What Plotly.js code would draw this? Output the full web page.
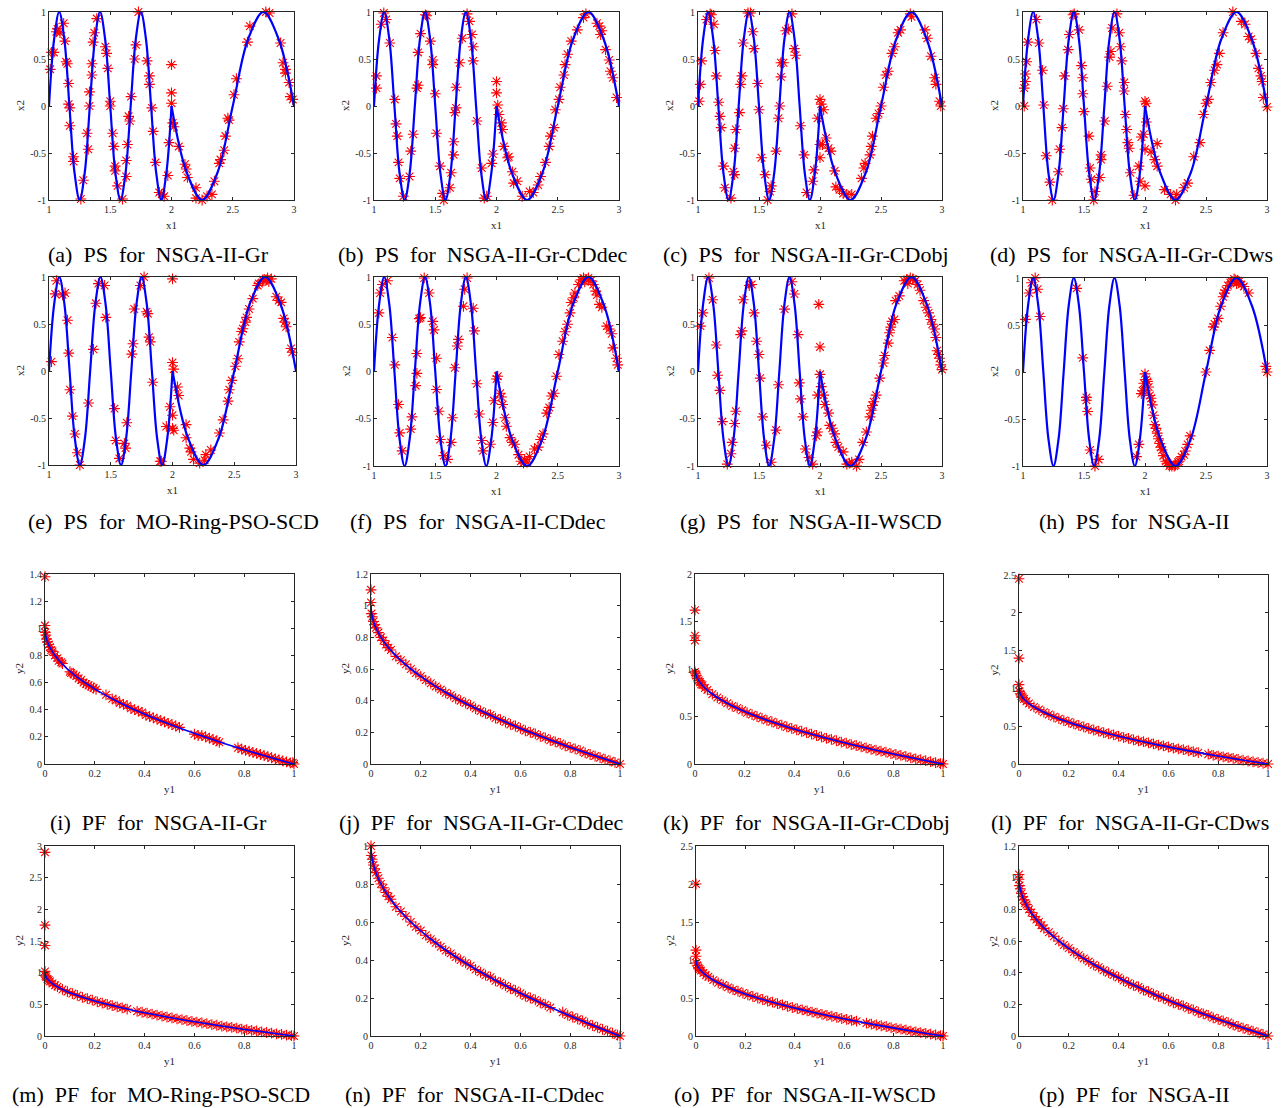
<!DOCTYPE html>
<html><head><meta charset="utf-8">
<script src="https://cdn.plot.ly/plotly-3.0.1.min.js"></script>
<style>html,body{margin:0;padding:0;background:#fff;}#chart{width:1284px;height:1108px;}</style>
</head><body><div id="chart"></div>
<script>
// ---------- reference curves ----------
const psCurve1X1 = [1,1.0417,1.0833,1.125,1.1667,1.2083,1.25,1.2917,1.3333,1.375,1.4167,1.4583,1.5,1.5417,1.5833,1.625,1.6667,1.7083,1.75,1.7917,1.8333,1.875,1.9167,1.9583,2];
const psCurve1X2 = [0,0.71,1,0.71,0,-0.71,-1,-0.71,0,0.71,1,0.71,0,-0.71,-1,-0.71,0,0.71,1,0.71,0,-0.71,-1,-0.71,0];
const psCurve2X1 = [2,2.125,2.25,2.375,2.5,2.625,2.75,2.875,3];
const psCurve2X2 = [0,-0.71,-1,-0.71,0,0.71,1,0.71,0];
const pfCurveY1 = [0,0.0025,0.01,0.0225,0.04,0.0625,0.09,0.1225,0.16,0.2025,0.25,0.3025,0.36,0.4225,0.49,0.5625,0.64,0.7225,0.81,0.9025,1];
const pfCurveY2 = [1,0.95,0.9,0.85,0.8,0.75,0.7,0.65,0.6,0.55,0.5,0.45,0.4,0.35,0.3,0.25,0.2,0.15,0.1,0.05,0];

// ---------- PS points [x1, x2] ----------
const psA = [[1.01,0.39],[1.02,0.57],[1.04,0.57],[1.06,0.79],[1.07,0.82],[1.09,0.78],[1.12,0.88],[1.13,0.69],[1.14,0.47],[1.15,0.45],
[1.16,0.24],[1.16,0.02],[1.17,-0.02],[1.17,-0.21],[1.2,-0.54],[1.2,-0.59],[1.26,-0.99],[1.28,-0.79],[1.31,-0.29],[1.32,-0.46],
[1.33,0.0],[1.33,0.15],[1.35,0.33],[1.35,0.45],[1.36,0.68],[1.37,0.78],[1.39,0.93],[1.46,0.63],[1.47,0.56],[1.48,0.40],
[1.5,0.05],[1.5,0.0],[1.52,-0.29],[1.53,-0.43],[1.54,-0.64],[1.54,-0.69],[1.56,-0.85],[1.6,-0.99],[1.63,-0.75],[1.64,-0.41],
[1.63,-0.58],[1.65,-0.11],[1.66,-0.16],[1.67,0.10],[1.7,0.5],[1.71,0.65],[1.73,1.0],[1.8,0.48],[1.82,0.32],[1.82,0.23],
[1.84,-0.02],[1.85,-0.27],[1.87,-0.6],[1.9,-0.92],[1.92,-0.94],[1.94,-0.96],[1.97,-0.74],[1.98,-0.39],[2.0,0.44],[2.0,0.14],
[2.0,0.03],[2.01,-0.18],[2.02,-0.22],[2.06,-0.43],[2.11,-0.62],[2.12,-0.67],[2.13,-0.76],[2.2,-0.87],[2.2,-0.98],[2.25,-1.0],
[2.29,-0.96],[2.33,-0.94],[2.35,-0.8],[2.39,-0.61],[2.4,-0.57],[2.43,-0.47],[2.44,-0.32],[2.46,-0.13],[2.47,-0.15],[2.51,0.12],
[2.53,0.29],[2.62,0.68],[2.64,0.85],[2.77,1.0],[2.8,0.99],[2.89,0.67],[2.91,0.46],[2.93,0.39],[2.93,0.35],[2.96,0.25],
[2.97,0.1],[2.99,0.07]];
const psB = [[1.02,0.19],[1.02,0.32],[1.06,0.87],[1.08,0.99],[1.1,0.92],[1.13,0.67],[1.17,0.07],[1.18,-0.19],[1.19,-0.32],[1.2,-0.6],
[1.21,-0.77],[1.24,-0.96],[1.29,-0.75],[1.3,-0.48],[1.32,-0.3],[1.35,0.19],[1.36,0.22],[1.36,0.57],[1.38,0.77],[1.42,0.97],
[1.43,0.96],[1.46,0.69],[1.48,0.49],[1.48,0.44],[1.5,0.13],[1.51,-0.29],[1.54,-0.64],[1.56,-0.93],[1.57,-1.0],[1.62,-0.87],
[1.63,-0.71],[1.65,-0.52],[1.65,-0.38],[1.66,-0.07],[1.67,-0.02],[1.67,0.2],[1.7,0.46],[1.72,0.72],[1.76,0.98],[1.78,0.9],
[1.8,0.76],[1.81,0.63],[1.81,0.48],[1.84,-0.16],[1.88,-0.66],[1.9,-0.98],[1.92,-0.96],[1.96,-0.61],[1.97,-0.51],[2.0,0.26],
[2.0,0.14],[2.01,0.01],[2.02,-0.09],[2.04,-0.18],[2.05,-0.25],[2.06,-0.43],[2.09,-0.55],[2.1,-0.54],[2.13,-0.7],[2.14,-0.82],
[2.17,-0.8],[2.21,-0.96],[2.27,-0.91],[2.3,-0.92],[2.34,-0.84],[2.36,-0.75],[2.4,-0.6],[2.43,-0.43],[2.44,-0.32],[2.47,-0.23],
[2.48,-0.04],[2.51,0.07],[2.52,0.2],[2.55,0.33],[2.56,0.44],[2.58,0.55],[2.61,0.69],[2.66,0.81],[2.71,0.94],[2.73,0.98],
[2.82,0.88],[2.84,0.85],[2.86,0.8],[2.85,0.76],[2.89,0.6],[2.92,0.49],[2.93,0.37],[2.95,0.3],[2.98,0.09]];
const psC = [[1.01,0.05],[1.02,0.23],[1.03,0.48],[1.07,0.92],[1.1,0.98],[1.11,0.97],[1.13,0.87],[1.14,0.59],[1.15,0.32],[1.17,0.04],
[1.18,-0.11],[1.19,-0.23],[1.21,-0.64],[1.22,-0.87],[1.27,-0.98],[1.29,-0.7],[1.3,-0.73],[1.3,-0.45],[1.31,-0.25],[1.34,-0.07],
[1.35,0.23],[1.36,0.32],[1.37,0.67],[1.41,0.99],[1.43,0.99],[1.45,0.79],[1.46,0.61],[1.49,0.24],[1.5,-0.04],[1.52,-0.55],
[1.55,-0.73],[1.57,-1.0],[1.59,-0.91],[1.6,-0.85],[1.64,-0.48],[1.66,-0.13],[1.67,0.0],[1.68,0.31],[1.68,0.46],[1.7,0.46],
[1.72,0.8],[1.74,0.82],[1.77,0.98],[1.79,0.61],[1.8,0.54],[1.84,-0.21],[1.87,-0.52],[1.89,-0.92],[1.94,-0.8],[1.95,-0.68],
[1.98,-0.13],[2.0,0.07],[2.01,0.02],[2.0,-0.41],[2.0,-0.55],[2.02,-0.41],[2.03,-0.04],[2.05,-0.34],[2.07,-0.45],[2.09,-0.48],
[2.12,-0.69],[2.13,-0.86],[2.16,-0.89],[2.19,-0.93],[2.22,-0.94],[2.26,-0.94],[2.34,-0.77],[2.36,-0.66],[2.37,-0.61],[2.41,-0.52],
[2.42,-0.43],[2.43,-0.32],[2.46,-0.13],[2.48,-0.08],[2.5,0.0],[2.52,0.2],[2.54,0.33],[2.56,0.37],[2.59,0.56],[2.61,0.63],
[2.64,0.78],[2.66,0.81],[2.74,0.98],[2.75,0.95],[2.86,0.81],[2.88,0.72],[2.91,0.53],[2.94,0.3],[2.95,0.23],[2.98,0.05],[2.99,0.0]];
const psD = [[1.01,0.0],[1.01,0.19],[1.02,0.26],[1.02,0.34],[1.03,0.47],[1.04,0.68],[1.11,0.92],[1.13,0.67],[1.16,0.38],[1.17,0.01],
[1.19,-0.53],[1.22,-0.81],[1.24,-1.0],[1.29,-0.7],[1.3,-0.46],[1.32,-0.23],[1.33,-0.03],[1.34,0.32],[1.37,0.6],[1.38,0.76],
[1.41,0.97],[1.42,0.98],[1.46,0.81],[1.48,0.43],[1.49,0.3],[1.49,0.13],[1.5,-0.06],[1.54,-0.32],[1.55,-0.66],[1.56,-0.78],
[1.58,-1.0],[1.59,-0.91],[1.63,-0.76],[1.64,-0.52],[1.64,-0.57],[1.67,-0.16],[1.69,0.21],[1.71,0.52],[1.72,0.58],[1.73,0.83],
[1.77,0.98],[1.79,0.78],[1.8,0.63],[1.81,0.48],[1.83,0.25],[1.83,0.16],[1.84,-0.09],[1.85,-0.25],[1.86,-0.39],[1.87,-0.45],
[1.88,-0.71],[1.91,-0.95],[1.95,-0.64],[1.96,-0.8],[1.97,-0.33],[1.99,-0.3],[2.0,0.05],[2.01,0.03],[2.0,-0.46],[2.0,-0.85],
[2.01,-0.17],[2.05,-0.49],[2.08,-0.57],[2.1,-0.64],[2.1,-0.4],[2.16,-0.89],[2.21,-0.94],[2.25,-1.0],[2.26,-0.94],[2.32,-0.87],
[2.35,-0.82],[2.4,-0.54],[2.45,-0.39],[2.48,-0.09],[2.5,0.03],[2.52,0.07],[2.54,0.25],[2.57,0.38],[2.59,0.44],[2.61,0.56],
[2.64,0.78],[2.72,1.0],[2.79,0.9],[2.82,0.87],[2.85,0.74],[2.87,0.71],[2.91,0.56],[2.93,0.4],[2.95,0.32],[2.96,0.26],
[2.97,0.09],[3.0,-0.01]];
const psE = [[1.02,0.1],[1.05,0.82],[1.06,0.96],[1.11,0.81],[1.13,0.83],[1.15,0.54],[1.16,0.19],[1.17,-0.2],[1.19,-0.48],[1.21,-0.67],
[1.23,-0.87],[1.25,-1.0],[1.32,-0.34],[1.36,0.23],[1.38,0.72],[1.4,0.93],[1.45,0.91],[1.46,0.57],[1.53,-0.4],[1.54,-0.74],
[1.57,-0.93],[1.61,-0.77],[1.62,-0.82],[1.63,-0.55],[1.67,0.18],[1.68,0.29],[1.69,0.66],[1.74,0.91],[1.77,1.0],[1.79,0.63],
[1.8,0.61],[1.81,0.36],[1.82,0.31],[1.84,-0.12],[1.9,-0.96],[1.91,-0.96],[1.95,-0.59],[1.98,-0.38],[2.0,0.98],[2.0,0.09],
[2.01,0.02],[2.0,-0.47],[2.0,-0.61],[2.01,-0.63],[2.04,-0.17],[2.05,-0.26],[2.11,-0.57],[2.11,-0.71],[2.14,-0.82],[2.15,-0.86],
[2.17,-0.94],[2.22,-0.98],[2.26,-0.95],[2.27,-0.89],[2.31,-0.84],[2.38,-0.66],[2.41,-0.52],[2.45,-0.32],[2.46,-0.2],[2.51,0.05],
[2.53,0.13],[2.54,0.31],[2.56,0.42],[2.59,0.52],[2.6,0.57],[2.65,0.77],[2.69,0.91],[2.74,0.96],[2.8,0.98],[2.84,0.79],
[2.88,0.73],[2.9,0.56],[2.92,0.47],[2.96,0.24],[2.97,0.2],[2.57,0.45],[2.62,0.66],[2.7,0.93],[2.77,0.99],[2.78,0.95],
[2.76,0.97],[2.73,0.97],[2.86,0.75],[2.91,0.52],[2.48,-0.1]];
const psF = [[1.04,0.62],[1.05,0.83],[1.07,0.92],[1.11,0.96],[1.15,0.36],[1.17,0.07],[1.2,-0.35],[1.21,-0.65],[1.23,-0.84],[1.3,-0.61],
[1.31,-0.48],[1.34,-0.15],[1.35,-0.02],[1.35,0.19],[1.37,0.56],[1.38,0.57],[1.41,0.99],[1.45,0.83],[1.48,0.53],[1.49,0.44],
[1.51,0.14],[1.51,-0.19],[1.53,-0.42],[1.54,-0.72],[1.57,-0.89],[1.6,-0.93],[1.63,-0.75],[1.64,-0.49],[1.66,0.04],[1.68,0.27],
[1.69,0.34],[1.73,0.69],[1.74,0.87],[1.76,0.99],[1.81,0.67],[1.82,0.43],[1.84,-0.13],[1.86,-0.45],[1.88,-0.73],[1.89,-0.84],
[1.95,-0.77],[1.97,-0.54],[1.98,-0.31],[2.0,-0.08],[2.01,-0.05],[2.03,-0.23],[2.04,-0.27],[2.05,-0.35],[2.07,-0.49],[2.08,-0.58],
[2.11,-0.7],[2.13,-0.75],[2.15,-0.77],[2.18,-0.88],[2.2,-0.95],[2.23,-0.93],[2.27,-0.9],[2.31,-0.82],[2.34,-0.8],[2.38,-0.66],
[2.41,-0.44],[2.43,-0.38],[2.45,-0.26],[2.47,-0.23],[2.49,-0.05],[2.51,0.18],[2.54,0.32],[2.58,0.5],[2.6,0.62],[2.61,0.73],
[2.64,0.83],[2.67,0.92],[2.71,0.99],[2.73,0.97],[2.79,0.92],[2.82,0.81],[2.84,0.71],[2.86,0.68],[2.9,0.48],[2.92,0.45],
[2.94,0.4],[2.95,0.25],[2.98,0.14],[2.99,0.07],[2.69,0.97],[2.75,0.99],[2.77,0.96],[2.72,0.95],[2.81,0.85],[2.22,-0.97],
[2.25,-0.96],[2.36,-0.72],[2.56,0.42],[2.63,0.78]];
const psG = [[1.02,0.48],[1.04,0.62],[1.09,0.99],[1.12,0.76],[1.15,0.28],[1.16,-0.04],[1.18,-0.2],[1.2,-0.53],[1.24,-0.98],[1.27,-0.87],
[1.28,-0.75],[1.3,-0.55],[1.31,-0.42],[1.35,0.39],[1.36,0.43],[1.37,0.76],[1.42,0.91],[1.44,0.92],[1.46,0.62],[1.48,0.32],
[1.5,0.18],[1.51,-0.07],[1.53,-0.48],[1.56,-0.78],[1.6,-0.96],[1.64,-0.62],[1.66,-0.14],[1.71,0.66],[1.77,0.95],[1.79,0.82],
[1.82,0.39],[1.83,-0.12],[1.84,-0.29],[1.86,-0.48],[1.88,-0.82],[1.91,-0.91],[1.94,-0.98],[1.97,-0.68],[1.98,-0.64],[1.99,0.71],
[2.0,0.26],[2.0,-0.03],[1.98,-0.25],[2.01,-0.16],[2.03,-0.25],[2.04,-0.35],[2.07,-0.44],[2.08,-0.57],[2.1,-0.6],[2.12,-0.66],
[2.13,-0.75],[2.15,-0.8],[2.19,-0.85],[2.22,-0.98],[2.26,-0.96],[2.3,-1.0],[2.32,-0.93],[2.35,-0.75],[2.38,-0.64],[2.41,-0.48],
[2.42,-0.41],[2.44,-0.32],[2.46,-0.25],[2.49,-0.07],[2.52,0.09],[2.53,0.17],[2.56,0.3],[2.57,0.41],[2.59,0.53],[2.61,0.55],
[2.62,0.75],[2.65,0.8],[2.69,0.96],[2.74,0.99],[2.78,0.96],[2.82,0.86],[2.85,0.75],[2.89,0.62],[2.91,0.55],[2.94,0.45],
[2.95,0.36],[2.96,0.22],[2.98,0.14],[2.99,0.07],[3.0,0.02],[2.71,0.97],[2.76,0.98],[2.8,0.92],[2.87,0.68],[2.92,0.5],
[2.97,0.18],[2.24,-0.97],[2.43,-0.36],[2.58,0.47],[2.72,0.93]];
const psH = [[1.02,0.56],[1.05,0.84],[1.07,0.95],[1.1,1.0],[1.12,0.88],[1.14,0.59],[1.44,0.89],[1.49,0.15],[1.52,-0.27],[1.52,-0.3],
[1.53,-0.42],[1.55,-0.83],[1.59,-1.0],[1.62,-0.93],[1.93,-0.9],[1.95,-0.77],[1.97,-0.23],[1.99,-0.12],[2.0,-0.02],[2.01,-0.08],
[2.03,-0.16],[2.04,-0.25],[2.05,-0.28],[2.07,-0.46],[2.08,-0.56],[2.1,-0.65],[2.11,-0.71],[2.12,-0.76],[2.14,-0.83],[2.15,-0.89],
[2.17,-0.95],[2.2,-1.0],[2.22,-1.0],[2.25,-0.99],[2.27,-0.96],[2.3,-0.9],[2.33,-0.84],[2.35,-0.77],[2.37,-0.68],[2.5,0.0],
[2.53,0.23],[2.57,0.51],[2.6,0.57],[2.62,0.7],[2.64,0.8],[2.66,0.87],[2.68,0.92],[2.71,0.96],[2.74,0.98],[2.77,0.96],
[2.81,0.91],[2.85,0.84],[2.99,0.06],[3.0,0.0],[2.02,-0.1],[2.06,-0.35],[2.09,-0.6],[2.13,-0.8],[2.18,-0.97],[2.21,-0.98],
[2.24,-1.0],[2.28,-0.95],[2.32,-0.88],[2.7,0.95],[2.73,0.99],[2.76,0.97],[2.79,0.93],[2.75,0.94],[2.65,0.84],[2.56,0.48],
[1.98,-0.2],[2.0,-0.2]];

// ---------- PF points ----------
const pfI_y1 = [0,0,0.001,0.003,0.006,0.01,0.015,0.02,0.025,0.03,0.04,0.05,0.055,0.065,0.07,0.1,0.105,0.115,0.125,0.135,0.145,0.155,0.165,0.175,0.185,0.195,0.205,0.245,0.27,0.285,0.3,0.315,0.33,0.345,0.36,0.375,0.39,0.405,0.42,0.435,0.45,0.465,0.48,0.495,0.51,0.525,0.54,0.6,0.615,0.63,0.645,0.66,0.675,0.69,0.7,0.775,0.79,0.805,0.82,0.835,0.85,0.865,0.88,0.895,0.91,0.925,0.94,0.955,0.97,0.985,1.0,0.995];
const pfI_y2 = [1.38,1.02,0.97,0.95,0.92,0.9,0.88,0.86,0.84,0.83,0.8,0.78,0.76,0.75,0.74,0.68,0.67,0.66,0.65,0.63,0.62,0.6,0.59,0.58,0.57,0.56,0.55,0.51,0.48,0.47,0.45,0.44,0.43,0.41,0.4,0.39,0.38,0.36,0.35,0.34,0.33,0.32,0.31,0.3,0.29,0.28,0.27,0.22,0.21,0.21,0.2,0.19,0.18,0.17,0.16,0.12,0.11,0.1,0.094,0.085,0.078,0.07,0.062,0.055,0.046,0.038,0.03,0.023,0.015,0.008,0.0,0.01];
const pfJ_y1 = [0,0,0.002,0.005,0.01,0.015,0.02,0.03,0.04,0.05,0.06,0.07,0.08,0.1,0.12,0.14,0.16,0.18,0.2,0.22,0.24,0.26,0.28,0.3,0.32,0.34,0.36,0.38,0.4,0.42,0.44,0.46,0.48,0.5,0.52,0.54,0.56,0.58,0.6,0.62,0.64,0.66,0.68,0.7,0.72,0.74,0.76,0.78,0.8,0.82,0.84,0.86,0.88,0.9,0.92,0.94,0.96,0.98,1];
const pfJ_y2 = [1.1,1.02,0.95,0.93,0.9,0.88,0.86,0.83,0.8,0.78,0.755,0.735,0.72,0.68,0.655,0.63,0.6,0.575,0.555,0.53,0.51,0.49,0.47,0.45,0.435,0.415,0.4,0.385,0.37,0.35,0.335,0.32,0.31,0.29,0.28,0.265,0.25,0.24,0.225,0.21,0.2,0.19,0.175,0.165,0.15,0.14,0.13,0.115,0.105,0.095,0.085,0.07,0.06,0.05,0.04,0.03,0.02,0.01,0];
const pfK_y1 = [0,0,0,0,0.002,0.005,0.01,0.015,0.02,0.025,0.03,0.04,0.05,0.07,0.09,0.11,0.13,0.15,0.17,0.19,0.21,0.23,0.25,0.27,0.29,0.31,0.33,0.35,0.37,0.39,0.41,0.43,0.45,0.47,0.49,0.51,0.53,0.55,0.57,0.59,0.61,0.63,0.65,0.67,0.69,0.71,0.73,0.75,0.77,0.79,0.81,0.83,0.85,0.87,0.89,0.91,0.93,0.95,0.97,0.99,1];
const pfK_y2 = [1.62,1.35,1.3,0.97,0.95,0.93,0.9,0.88,0.86,0.84,0.83,0.8,0.78,0.735,0.7,0.67,0.64,0.61,0.59,0.565,0.54,0.52,0.5,0.48,0.46,0.445,0.425,0.41,0.39,0.375,0.36,0.345,0.33,0.315,0.3,0.285,0.27,0.26,0.245,0.23,0.22,0.205,0.195,0.18,0.17,0.155,0.145,0.135,0.125,0.11,0.1,0.09,0.08,0.065,0.055,0.045,0.035,0.025,0.015,0.005,0];
const pfL_y1 = [0,0,0,0.002,0.005,0.01,0.015,0.02,0.03,0.04,0.06,0.08,0.1,0.12,0.14,0.16,0.18,0.2,0.22,0.24,0.26,0.28,0.3,0.32,0.34,0.36,0.38,0.4,0.42,0.44,0.46,0.48,0.5,0.52,0.54,0.56,0.58,0.6,0.62,0.64,0.66,0.68,0.7,0.72,0.76,0.78,0.8,0.82,0.84,0.86,0.88,0.9,0.92,0.94,0.96,0.98,1];
const pfL_y2 = [2.45,1.4,1.05,0.96,0.93,0.9,0.88,0.86,0.83,0.8,0.755,0.72,0.685,0.655,0.625,0.6,0.575,0.555,0.53,0.51,0.49,0.47,0.45,0.435,0.415,0.4,0.385,0.37,0.35,0.34,0.32,0.305,0.295,0.28,0.265,0.25,0.24,0.225,0.21,0.2,0.19,0.175,0.165,0.15,0.13,0.115,0.105,0.095,0.085,0.075,0.06,0.05,0.04,0.03,0.02,0.01,0];
const pfM_y1 = [0,0,0,0,0.002,0.005,0.01,0.015,0.02,0.03,0.04,0.05,0.07,0.09,0.11,0.13,0.15,0.17,0.19,0.21,0.23,0.25,0.27,0.29,0.31,0.33,0.37,0.39,0.41,0.43,0.45,0.47,0.49,0.51,0.53,0.55,0.57,0.59,0.61,0.63,0.65,0.67,0.69,0.71,0.73,0.75,0.77,0.79,0.81,0.83,0.85,0.87,0.89,0.91,0.93,0.95,0.97,0.99,1];
const pfM_y2 = [2.9,1.75,1.43,1.02,0.95,0.93,0.9,0.88,0.86,0.83,0.8,0.78,0.735,0.7,0.67,0.64,0.61,0.59,0.565,0.54,0.52,0.5,0.48,0.46,0.445,0.425,0.39,0.375,0.36,0.345,0.33,0.315,0.3,0.285,0.27,0.26,0.245,0.23,0.22,0.205,0.195,0.18,0.17,0.155,0.145,0.135,0.125,0.11,0.1,0.09,0.08,0.065,0.055,0.045,0.035,0.025,0.015,0.005,0];
const pfN_y1 = [0,0.002,0.005,0.01,0.015,0.02,0.03,0.04,0.05,0.06,0.07,0.08,0.1,0.12,0.14,0.16,0.18,0.2,0.22,0.24,0.26,0.28,0.3,0.32,0.34,0.36,0.38,0.4,0.42,0.44,0.46,0.48,0.5,0.52,0.54,0.56,0.58,0.6,0.62,0.64,0.66,0.68,0.7,0.72,0.77,0.79,0.81,0.83,0.85,0.87,0.89,0.91,0.93,0.95,0.97,0.99,1];
const pfN_y2 = [1.0,0.95,0.93,0.9,0.88,0.86,0.83,0.8,0.78,0.755,0.735,0.72,0.68,0.655,0.63,0.6,0.575,0.555,0.53,0.51,0.49,0.47,0.45,0.435,0.415,0.4,0.385,0.37,0.35,0.335,0.32,0.31,0.29,0.28,0.265,0.25,0.24,0.225,0.21,0.2,0.19,0.175,0.165,0.15,0.125,0.11,0.1,0.09,0.08,0.065,0.055,0.045,0.035,0.025,0.015,0.005,0];
const pfO_y1 = [0,0,0,0.002,0.005,0.01,0.015,0.02,0.03,0.04,0.05,0.07,0.09,0.11,0.13,0.15,0.17,0.19,0.21,0.23,0.25,0.27,0.29,0.31,0.33,0.35,0.37,0.39,0.41,0.43,0.45,0.47,0.49,0.51,0.53,0.55,0.57,0.59,0.61,0.63,0.65,0.69,0.71,0.73,0.75,0.77,0.79,0.81,0.83,0.85,0.87,0.89,0.91,0.93,0.95,0.97,0.99,1];
const pfO_y2 = [2.0,1.13,1.05,0.96,0.93,0.9,0.88,0.86,0.83,0.8,0.78,0.735,0.7,0.67,0.64,0.61,0.59,0.565,0.54,0.52,0.5,0.48,0.46,0.445,0.425,0.41,0.39,0.375,0.36,0.345,0.33,0.315,0.3,0.285,0.27,0.26,0.245,0.23,0.22,0.205,0.195,0.17,0.155,0.145,0.135,0.125,0.11,0.1,0.09,0.08,0.065,0.055,0.045,0.035,0.025,0.015,0.005,0];
const pfP_y1 = [0,0,0.002,0.005,0.01,0.015,0.02,0.025,0.03,0.04,0.05,0.06,0.07,0.08,0.09,0.1,0.12,0.14,0.16,0.18,0.2,0.22,0.24,0.26,0.28,0.3,0.32,0.34,0.36,0.38,0.4,0.42,0.44,0.46,0.48,0.5,0.52,0.54,0.56,0.58,0.6,0.62,0.64,0.66,0.68,0.7,0.72,0.74,0.76,0.78,0.8,0.82,0.84,0.86,0.88,0.9,0.92,0.94,0.96,0.98,1];
const pfP_y2 = [1.02,0.99,0.95,0.93,0.9,0.88,0.86,0.84,0.83,0.8,0.78,0.755,0.735,0.72,0.7,0.68,0.655,0.63,0.6,0.575,0.555,0.53,0.51,0.49,0.47,0.45,0.435,0.415,0.4,0.385,0.37,0.35,0.335,0.32,0.31,0.29,0.28,0.265,0.25,0.24,0.225,0.21,0.2,0.19,0.175,0.165,0.15,0.14,0.13,0.115,0.105,0.095,0.085,0.07,0.06,0.05,0.04,0.03,0.02,0.01,0];

// ---------- ticks & labels ----------
const psXTicks = [1,1.5,2,2.5,3];
const psYTicks = [-1,-0.5,0,0.5,1];
const pfXTicks = [0,0.2,0.4,0.6,0.8,1];
const pfYTicks14 = [0,0.2,0.4,0.6,0.8,1,1.2,1.4];
const pfYTicks12 = [0,0.2,0.4,0.6,0.8,1,1.2];
const pfYTicks10 = [0,0.2,0.4,0.6,0.8,1];
const pfYTicks20 = [0,0.5,1,1.5,2];
const pfYTicks25 = [0,0.5,1,1.5,2,2.5];
const pfYTicks30 = [0,0.5,1,1.5,2,2.5,3];
const captions = ['(a) PS for NSGA-II-Gr','(b) PS for NSGA-II-Gr-CDdec','(c) PS for NSGA-II-Gr-CDobj','(d) PS for NSGA-II-Gr-CDws',
'(e) PS for MO-Ring-PSO-SCD','(f) PS for NSGA-II-CDdec','(g) PS for NSGA-II-WSCD','(h) PS for NSGA-II',
'(i) PF for NSGA-II-Gr','(j) PF for NSGA-II-Gr-CDdec','(k) PF for NSGA-II-Gr-CDobj','(l) PF for NSGA-II-Gr-CDws',
'(m) PF for MO-Ring-PSO-SCD','(n) PF for NSGA-II-CDdec','(o) PF for NSGA-II-WSCD','(p) PF for NSGA-II'];

// ---------- layout geometry (pixels) ----------
const W = 1284, H = 1108;
const boxes = [
 [49,294,12,200],[374,619,12,200],[698,942,12,200],[1023,1267,12,200],
 [49,296,277,465],[374,619,277,466],[698,942,277,466],[1023,1267,278,466],
 [45,294,574,764],[371,620,574,764],[695,943,574,764],[1019,1268,575,764],
 [45,294,846,1036],[371,620,846,1036],[696,943,846,1036],[1019,1268,846,1036]];
const capPos = [[158,255],[482,255],[806,255],[1131,255],[174,521],[478,521],[811,521],[1134,521],
 [158,822],[481,822],[806,822],[1130,822],[161,1094],[474,1094],[805,1094],[1134,1094]];

const psSets = [psA,psB,psC,psD,psE,psF,psG,psH];
const pfSets = [[pfI_y1,pfI_y2,pfYTicks14],[pfJ_y1,pfJ_y2,pfYTicks12],[pfK_y1,pfK_y2,pfYTicks20],[pfL_y1,pfL_y2,pfYTicks25],
 [pfM_y1,pfM_y2,pfYTicks30],[pfN_y1,pfN_y2,pfYTicks10],[pfO_y1,pfO_y2,pfYTicks25],[pfP_y1,pfP_y2,pfYTicks12]];

const FONT = 'Liberation Serif, Times New Roman, serif';
const axCol = '#262626';
function axBase(){ return {showline:true, mirror:'ticks', linecolor:axCol, linewidth:1, ticks:'inside', ticklen:3, tickwidth:1,
  tickcolor:axCol, showgrid:false, zeroline:false, fixedrange:true, tickfont:{family:FONT, size:10, color:axCol}}; }
// wide inter-word spacing as in the LaTeX captions
function spaced(s){ return s.split(' ').join('\u00A0\u00A0'); }

const data = [], layout = {width:W, height:H, margin:{l:0,r:0,t:0,b:0}, paper_bgcolor:'#fff', plot_bgcolor:'#fff',
  showlegend:false, annotations:[]};
const marker = {symbol:'asterisk-open', size:9, color:'#ff0000', line:{width:1.1, color:'#ff0000'}};

for (let k = 0; k < 16; k++) {
  const n = k + 1, xa = n === 1 ? 'x' : 'x' + n, ya = n === 1 ? 'y' : 'y' + n;
  const [l, r, t, b] = boxes[k];
  const xAxis = axBase(), yAxis = axBase();
  xAxis.domain = [l / W, r / W]; xAxis.anchor = ya;
  yAxis.domain = [1 - b / H, 1 - t / H]; yAxis.anchor = xa;
  let xlab, ylab;
  if (k < 8) {
    const pts = psSets[k];
    data.push({type:'scatter', mode:'markers', x:pts.map(p=>p[0]), y:pts.map(p=>p[1]), xaxis:xa, yaxis:ya, marker:marker, cliponaxis:false, hoverinfo:'skip'});
    data.push({type:'scatter', mode:'lines', x:psCurve1X1, y:psCurve1X2, xaxis:xa, yaxis:ya, line:{color:'#0000ff', width:2.2, shape:'spline', smoothing:1}, cliponaxis:false, hoverinfo:'skip'});
    data.push({type:'scatter', mode:'lines', x:psCurve2X1, y:psCurve2X2, xaxis:xa, yaxis:ya, line:{color:'#0000ff', width:2.2, shape:'spline', smoothing:1}, cliponaxis:false, hoverinfo:'skip'});
    Object.assign(xAxis, {range:[1,3], tickmode:'array', tickvals:psXTicks, ticktext:psXTicks.map(String)});
    Object.assign(yAxis, {range:[-1,1], tickmode:'array', tickvals:psYTicks, ticktext:psYTicks.map(String)});
    xlab = 'x1'; ylab = 'x2';
  } else {
    const [y1, y2, yt] = pfSets[k - 8];
    const m = Math.min(y1.length, y2.length);
    data.push({type:'scatter', mode:'markers', x:y1.slice(0,m), y:y2.slice(0,m), xaxis:xa, yaxis:ya, marker:Object.assign({}, marker, {size:9}), cliponaxis:false, hoverinfo:'skip'});
    data.push({type:'scatter', mode:'lines', x:pfCurveY1, y:pfCurveY2, xaxis:xa, yaxis:ya, line:{color:'#0000ff', width:1.6, shape:'spline', smoothing:1}, cliponaxis:false, hoverinfo:'skip'});
    Object.assign(xAxis, {range:[0,1], tickmode:'array', tickvals:pfXTicks, ticktext:pfXTicks.map(String)});
    Object.assign(yAxis, {range:[0, yt[yt.length-1]], tickmode:'array', tickvals:yt, ticktext:yt.map(String)});
    xlab = 'y1'; ylab = 'y2';
  }
  layout['xaxis' + (n === 1 ? '' : n)] = xAxis;
  layout['yaxis' + (n === 1 ? '' : n)] = yAxis;
  // axis titles
  layout.annotations.push({xref:'paper', yref:'paper', x:(l + r) / 2 / W, y:1 - (b + 25) / H, text:xlab, showarrow:false,
    xanchor:'center', yanchor:'middle', font:{family:FONT, size:11, color:axCol}});
  layout.annotations.push({xref:'paper', yref:'paper', x:(l - (k < 8 ? 29 : 26)) / W, y:1 - (t + b) / 2 / H, text:ylab, showarrow:false,
    textangle:-90, xanchor:'center', yanchor:'middle', font:{family:FONT, size:11, color:axCol}});
  // caption
  layout.annotations.push({xref:'paper', yref:'paper', x:capPos[k][0] / W, y:1 - capPos[k][1] / H, text:spaced(captions[k]), showarrow:false,
    xanchor:'center', yanchor:'middle', font:{family:FONT, size:22, color:'#000'}});
}

Plotly.newPlot('chart', data, layout, {staticPlot:true, displayModeBar:false});
</script>
</body></html>
